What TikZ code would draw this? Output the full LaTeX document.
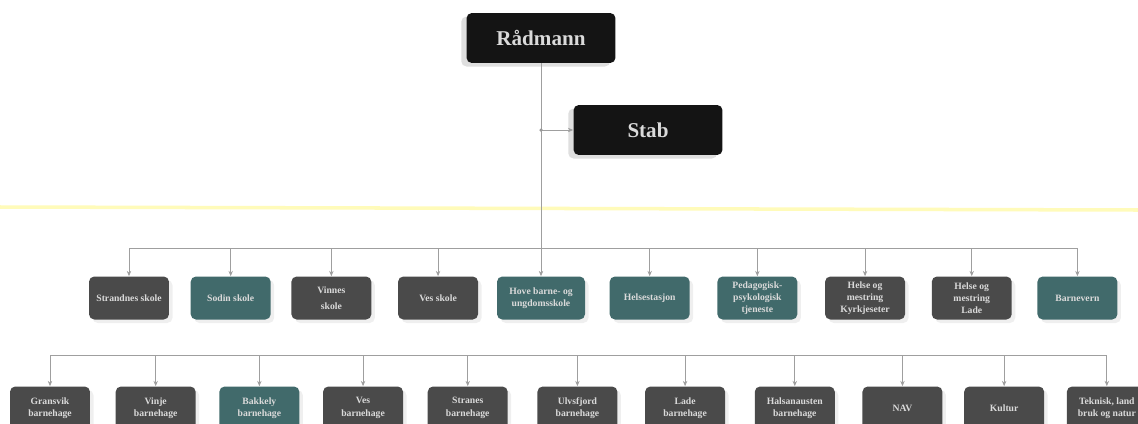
\documentclass[tikz,border=0pt]{standalone}
\usepackage{fontspec}
\setmainfont{Liberation Serif}
\usetikzlibrary{positioning,shadows,arrows.meta}

\definecolor{mork}{HTML}{4A4A4A}
\definecolor{blagronn}{HTML}{416A6B}
\definecolor{tekst}{HTML}{DADADA}

\tikzset{
	chef/.style={fill=black!92, rounded corners=3pt, text=tekst, font=\bfseries\fontsize{12}{14}\selectfont, minimum width=2.98cm, minimum height=1cm, drop shadow={shadow xshift=-3pt, shadow yshift=-2pt, opacity=0.25}},
	enhet/.style={fill=mork, rounded corners=3pt, text=tekst, font=\bfseries\fontsize{5.5}{7}\selectfont, align=center, minimum width=1.6cm, minimum height=0.86cm, inner sep=1pt, drop shadow={shadow xshift=2pt, shadow yshift=-2pt, opacity=0.12}},
	gronn/.style={fill=blagronn},
	linje/.style={draw=gray!75, line width=0.4pt},
	pil/.style={linje, -{Stealth[length=3pt,width=2.5pt]}},
}

\begin{document}
\begin{tikzpicture}[x=0.02cm, y=-0.02cm]
	\clip (0,0) rectangle (1138,423);
	\fill [white] (0,0) rectangle (1138,423);

	\draw [yellow!60!white, line width=2pt, opacity=0.45] (0,207) -- (1138,210);

	\node [chef] (radmann) at (541,38) {Rådmann};
	\node [chef] (stab) at (648,130) {Stab};

	\node [enhet] (a1) at (129,298) {Strandnes skole};
	\node [enhet, gronn, right=0.42cm of a1] (a2) {Sodin skole};
	\node [enhet, right=0.40cm of a2] (a3) {Vinnes\\[2pt] skole};
	\node [enhet, right=0.52cm of a3] (a4) {Ves skole};
	\node [enhet, gronn, minimum width=1.76cm] (a5) at (541,298) {Hove barne- og\\ ungdomsskole};
	\node [enhet, gronn, right=0.48cm of a5] (a6) {Helsestasjon};
	\node [enhet, gronn, right=0.54cm of a6] (a7) {Pedagogisk-\\ psykologisk\\ tjeneste};
	\node [enhet, right=0.54cm of a7] (a8) {Helse og\\ mestring\\ Kyrkjeseter};
	\node [enhet, right=0.52cm of a8] (a9) {Helse og\\ mestring\\ Lade};
	\node [enhet, gronn, right=0.50cm of a9] (a10) {Barnevern};

	\node [enhet] (b1) at (50,408) {Gransvik\\ barnehage};
	\node [enhet, right=0.50cm of b1] (b2) {Vinje\\ barnehage};
	\node [enhet, gronn, right=0.46cm of b2] (b3) {Bakkely\\ barnehage};
	\node [enhet, right=0.46cm of b3] (b4) {Ves\\ barnehage};
	\node [enhet, right=0.48cm of b4] (b5) {Stranes\\ barnehage};
	\node [enhet, right=0.58cm of b5] (b6) {Ulvsfjord\\ barnehage};
	\node [enhet, right=0.54cm of b6] (b7) {Lade\\ barnehage};
	\node [enhet, right=0.58cm of b7] (b8) {Halsanausten\\ barnehage};
	\node [enhet, right=0.54cm of b8] (b9) {NAV};
	\node [enhet, right=0.42cm of b9] (b10) {Kultur};
	\node [enhet, right=0.44cm of b10] (b11) {Teknisk, land\\ bruk og natur};

	\coordinate (buss1) at (541,248);
	\coordinate (buss2) at (541,355);

	\draw [pil] (radmann) -- (a5);
	\draw [pil] (radmann |- stab) -- (stab);
	\fill [gray!80] (radmann |- stab) circle (1pt);

	\draw [linje] (buss1 -| a1) -- (buss1 -| a10);
	\draw [pil] (buss1 -| a1) -- (a1);
	\draw [pil] (buss1 -| a2) -- (a2);
	\draw [pil] (buss1 -| a3) -- (a3);
	\draw [pil] (buss1 -| a4) -- (a4);
	\draw [pil] (buss1 -| a6) -- (a6);
	\draw [pil] (buss1 -| a7) -- (a7);
	\draw [pil] (buss1 -| a8) -- (a8);
	\draw [pil] (buss1 -| a9) -- (a9);
	\draw [pil] (buss1 -| a10) -- (a10);

	\draw [linje] (buss2 -| b1) -- (buss2 -| b11);
	\draw [pil] (buss2 -| b1) -- (b1);
	\draw [pil] (buss2 -| b2) -- (b2);
	\draw [pil] (buss2 -| b3) -- (b3);
	\draw [pil] (buss2 -| b4) -- (b4);
	\draw [pil] (buss2 -| b5) -- (b5);
	\draw [pil] (buss2 -| b6) -- (b6);
	\draw [pil] (buss2 -| b7) -- (b7);
	\draw [pil] (buss2 -| b8) -- (b8);
	\draw [pil] (buss2 -| b9) -- (b9);
	\draw [pil] (buss2 -| b10) -- (b10);
	\draw [pil] (buss2 -| b11) -- (b11);

\end{tikzpicture}
\end{document}
